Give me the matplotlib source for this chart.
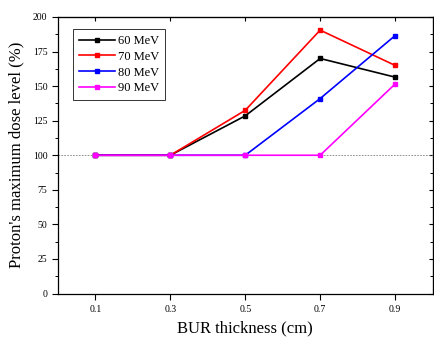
import matplotlib
matplotlib.use("Agg")
import matplotlib.pyplot as plt
from matplotlib.ticker import MultipleLocator

plt.rcParams['font.family'] = ['Liberation Serif', 'DejaVu Serif']

# data
thickness = [0.1, 0.3, 0.5, 0.7, 0.9]
dose_60 = [100, 100, 128.5, 170, 156.5]
dose_70 = [100, 100, 132.5, 190.5, 165]
dose_80 = [100, 100, 100, 141, 186.5]
dose_90 = [100, 100, 100, 100, 151.5]
labels = ['60 MeV', '70 MeV', '80 MeV', '90 MeV']
colors = ['black', 'red', 'blue', 'magenta']

fig = plt.figure(figsize=(4.34, 3.4), dpi=100)
ax = fig.add_axes([58 / 434, 46.5 / 340, 374.5 / 434, 276.5 / 340])

ax.axhline(100, color='gray', lw=0.6, ls=(0, (2, 1.5)), zorder=1)
for vals, lab, c in zip([dose_60, dose_70, dose_80, dose_90], labels, colors):
    ax.plot(thickness, vals, '-s', color=c, lw=1.2, ms=2.2, label=lab, zorder=3)

ax.set_xlim(0, 1.0)
ax.set_ylim(0, 200)
ax.set_xticks(thickness)
ax.set_xticklabels(['0.1', '0.3', '0.5', '0.7', '0.9'])
ax.yaxis.set_major_locator(MultipleLocator(25))
ax.yaxis.set_minor_locator(MultipleLocator(12.5))

ax.tick_params(axis='both', which='major', labelsize=7, direction='out', length=4, width=0.8)
ax.tick_params(axis='y', which='minor', direction='out', length=2.5, width=0.7)
ax.tick_params(axis='x', which='major', pad=4)
# mirrored ticks on top/right pointing in
sec_x = ax.secondary_xaxis('top')
sec_x.set_xticks(thickness)
sec_x.tick_params(direction='in', length=3, width=0.8, labeltop=False)
sec_y = ax.secondary_yaxis('right')
sec_y.yaxis.set_major_locator(MultipleLocator(25))
sec_y.yaxis.set_minor_locator(MultipleLocator(12.5))
sec_y.tick_params(which='major', direction='in', length=3, width=0.8, labelright=False)
sec_y.tick_params(which='minor', direction='in', length=2, width=0.7)

for s in ax.spines.values():
    s.set_linewidth(0.9)

ax.set_xlabel('BUR thickness (cm)', fontsize=12, labelpad=5)
ax.set_ylabel("Proton's maximum dose level (%)", fontsize=12, labelpad=6)

leg = ax.legend(loc='upper left', bbox_to_anchor=(0.04, 0.955), fontsize=9,
                frameon=True, fancybox=False, edgecolor='black', handlelength=2.9,
                handletextpad=0.25, borderpad=0.45, labelspacing=0.3,
                borderaxespad=0)
leg.get_frame().set_linewidth(0.7)

fig.savefig('out.png', dpi=100)
